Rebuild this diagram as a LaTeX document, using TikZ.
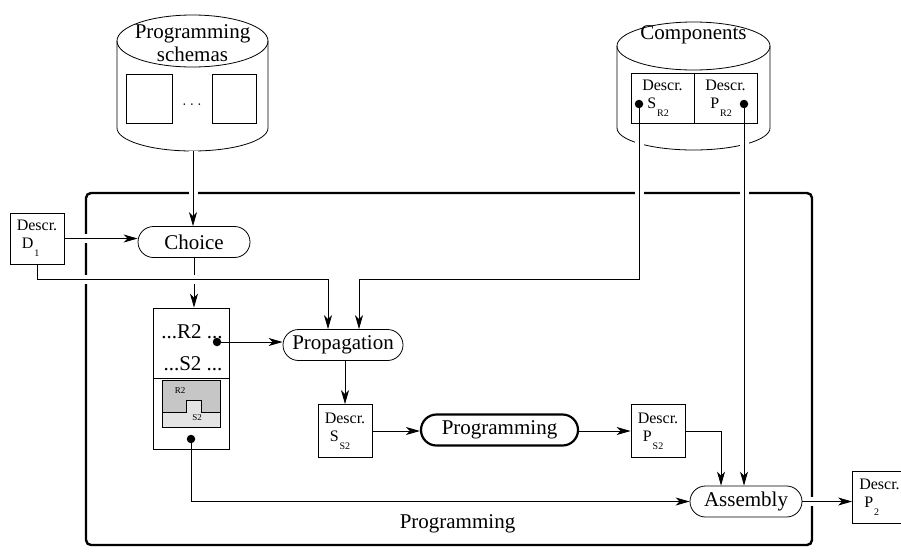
\documentclass[tikz,border=0pt]{standalone}
\usepackage{fontspec}
\setmainfont{Liberation Serif}
\usetikzlibrary{arrows.meta,positioning,calc}

\pgfdeclarelayer{bg}
\pgfdeclarelayer{mid}
\pgfsetlayers{bg,mid,main}

\newcommand{\descrtext}[2]{Descr.\\\hspace*{5pt}#1\hspace{1pt}\raisebox{-8pt}{\fontsize{10}{10}\selectfont #2}}

\begin{document}
\begin{tikzpicture}[
  x=1pt,
  y=-1pt,
  >={Stealth[length=14pt,width=8pt,inset=4pt]},
  font=\fontsize{21}{23}\selectfont,
  descr/.style={draw,line width=0.8pt,minimum width=54pt,minimum height=53pt,
    inner sep=0pt,align=left,font=\fontsize{16}{18}\selectfont},
  part/.style={descr,minimum width=63pt,minimum height=50pt},
  proc/.style={draw,rounded corners=15.5pt,line width=0.8pt,minimum height=31pt,
    inner sep=0pt},
  flow/.style={->,line width=0.8pt},
  halo/.style={preaction={draw=white,line width=9pt,-}},
  dot/.style={circle,fill,inner sep=0pt,minimum size=8.5pt},
  drum/.style={line width=0.8pt},
  shapelabel/.style={font=\fontsize{9}{9}\selectfont,inner sep=0pt}
]
  \definecolor{figdark}{HTML}{C6C6C6}
  \definecolor{figlight}{HTML}{E4E4E4}

  \useasboundingbox (0,0) rectangle (901,552);

  % databases
  \node[align=center] (schemastitle) at (192.5,43) {Programming\\schemas};
  \node[anchor=base] (comptitle) at (693.5,39) {Components};
  \coordinate (schemasbot) at (193,151);
  \node[font=\fontsize{16}{16}\selectfont,inner sep=0pt] (schemadots) at (192,105) {$\ldots$};
  \node[part] (sr2) at (662.5,98) {\descrtext{S}{R2}};
  \node[part] (pr2) at (725.5,98) {\descrtext{P}{R2}};
  \node[dot] (sdot) at (639,104) {};
  \node[dot] (pdot) at (744,104) {};

  % processes
  \node[descr,minimum height=51pt] (d1) at (37,238.5) {\descrtext{D}{1}};
  \node[proc,minimum width=112pt] (choice) at (194,242) {Choice};
  \node[draw,line width=0.8pt,minimum width=76pt,minimum height=70pt] (insttop) at (191,343) {};
  \node[draw,line width=0.8pt,minimum width=76pt,minimum height=71pt] (instbot) at (191,413.5) {};
  \node (r2line) at (192,332) {...R2 ...};
  \node (s2line) at (193,364) {...S2 ...};
  \node[dot] (rdot) at (217,342) {};
  \node[dot] (bdot) at (191,439) {};
  \node[proc,minimum width=120pt] (prop) at (343,345) {Propagation};
  \node[descr] (ss2) at (345,431) {\descrtext{S}{S2}};
  \node[proc,minimum width=157pt,line width=2.2pt] (prog) at (499.5,430) {Programming};
  \node[descr] (ps2) at (658,431) {\descrtext{P}{S2}};
  \node[proc,minimum width=112pt] (asm) at (746,501.5) {Assembly};
  \node[descr,minimum height=52pt] (p2) at (879.5,497) {\descrtext{P}{2}};
  \node (framelabel) at (457.5,524) {Programming};

  % schema picture
  \draw[line width=0.6pt,fill=figdark] (162,380) -- (220,380) -- (220,412) -- (201,412)
    -- (201,400) -- (186,400) -- (186,412) -- (162,412) -- cycle;
  \draw[line width=0.6pt,fill=figlight] (162,412) -- (186,412) -- (186,400) -- (201,400)
    -- (201,412) -- (220,412) -- (220,427) -- (162,427) -- cycle;
  \node[shapelabel] (figr2) at (180,391) {R2};
  \node[shapelabel] (figs2) at (197,418) {S2};

  \begin{pgfonlayer}{mid}
    \coordinate (dturn) at (328,279);
    \coordinate (sturn) at (359,279);
    \draw[flow,halo] (schemasbot) -- (schemasbot |- choice.north);
    \draw[flow,halo] (d1.east) -- (d1.east -| choice.west);
    \draw[flow] (choice.south) -- (choice.south |- insttop.north);
    \draw[flow,halo] (d1.south) |- (dturn) -- (dturn |- prop.north);
    \draw[flow,halo] (sdot.center) |- (sturn) -- (sturn |- prop.north);
    \draw[flow,halo] (pdot.center) -- (pdot |- asm.north);
    \draw[flow] (rdot.center) -- (rdot -| prop.west);
    \draw[flow] (ss2.north |- prop.south) -- (ss2.north);
    \draw[flow] (ss2.east) -- (ss2.east -| prog.west);
    \draw[flow] (prog.east |- ps2.west) -- (ps2.west);
    \draw[flow] (ps2.east) -| ([xshift=-25pt]asm.north);
    \draw[flow] (bdot.center) |- (asm.west);
    \draw[flow,halo] (asm.east) -- (asm.east -| p2.west);
  \end{pgfonlayer}

  \begin{pgfonlayer}{bg}
    \draw[line width=2.4pt,rounded corners=5pt] (86,193) rectangle (812,545);
    \draw[drum] (192.5,41) ellipse [x radius=75.5,y radius=26];
    \draw[drum] (117,41) -- (117,128) arc[start angle=180,end angle=0,x radius=75.5,y radius=23]
      -- (268,41);
    \draw[drum] (126,74) rectangle (172,123);
    \draw[drum] (212,74) rectangle (256,123);
    \draw[drum] (693.5,46) ellipse [x radius=76.5,y radius=24];
    \draw[drum] (617,46) -- (617,128) arc[start angle=180,end angle=0,x radius=76.5,y radius=22]
      -- (770,46);
  \end{pgfonlayer}
\end{tikzpicture}
\end{document}
